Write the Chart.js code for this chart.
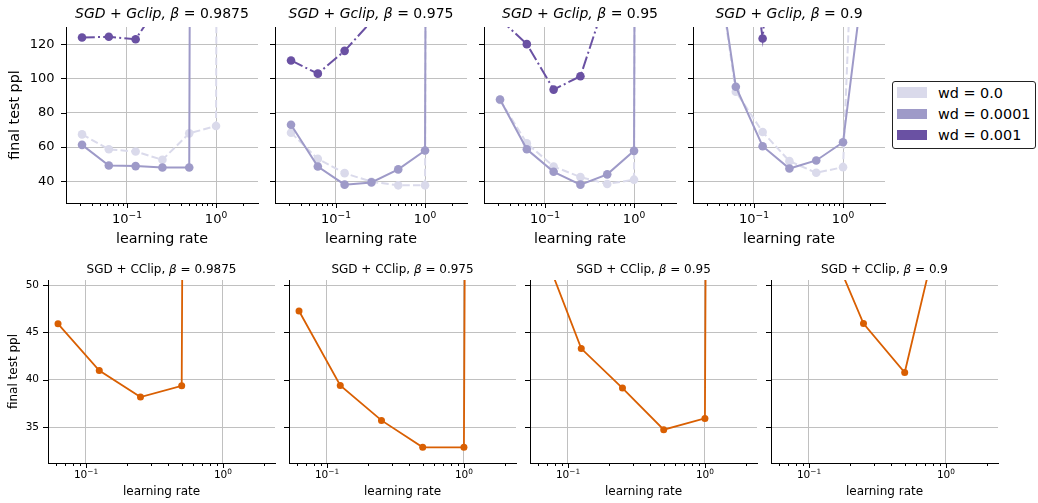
<!DOCTYPE html>
<html><head><meta charset="utf-8">
<script src="https://cdn.jsdelivr.net/npm/chart.js@4.4.0/dist/chart.umd.min.js"></script>
<style>
html,body{margin:0;padding:0;background:#fff;}
#wrap{position:relative;width:1038px;height:503px;overflow:hidden;background:#fff;}
#wrap canvas{position:absolute;}
#legend{position:absolute;left:892px;top:81px;width:144px;height:68px;border:1px solid #222;border-radius:3px;background:#fff;font:14.4px 'DejaVu Sans';color:#000;box-sizing:border-box;z-index:5;}
.row{position:absolute;left:4px;height:16px;display:flex;align-items:center;white-space:nowrap;}
.sw{width:30px;height:10.5px;display:inline-block;margin-right:11px;}
</style></head><body><div id="wrap">
<div id="legend">
 <div class="row" style="top:2.5px"><span class="sw" style="background:#dadaeb"></span>wd = 0.0</div>
 <div class="row" style="top:24px"><span class="sw" style="background:#9e9ac8"></span>wd = 0.0001</div>
 <div class="row" style="top:45px"><span class="sw" style="background:#6a51a3"></span>wd = 0.001</div>
</div>
</div>
<script>
// ---------- data ----------
const lrTop = [0.03125, 0.0625, 0.125, 0.25, 0.5, 1, 2];
const betaLabels = ['0.9875', '0.975', '0.95', '0.9'];
const wdLabels = ['wd = 0.0', 'wd = 0.0001', 'wd = 0.001'];
// SGD + Gclip, beta = 0.9875
const gc9875_wd0    = [67.4, 58.7, 57.4, 52.6, 68.0, 72.3, 5000];
const gc9875_wd1em4 = [61.3, 49.3, 48.9, 48.1, 48.1, 5000, null];
const gc9875_wd1em3 = [123.9, 124.3, 122.9, 146, null, null, null];
// beta = 0.975
const gc975_wd0    = [68.4, 53.1, 44.8, 39.8, 37.7, 37.7, 5000];
const gc975_wd1em4 = [73.0, 48.7, 38.1, 39.4, 47.0, 58.0, 5000];
const gc975_wd1em3 = [110.5, 102.8, 116.1, 133.3, null, null, null];
// beta = 0.95
const gc95_wd0    = [87.5, 62.2, 48.7, 42.5, 38.5, 41.0, 5000];
const gc95_wd1em4 = [87.7, 58.7, 45.6, 38.1, 44.1, 57.8, 5000];
const gc95_wd1em3 = [134.6, 120.0, 93.5, 101.3, 148.6, null, null];
// beta = 0.9
const gc9_wd0    = [200, 92.3, 68.8, 51.8, 45.0, 48.3, 440];
const gc9_wd1em4 = [200, 95.2, 60.5, 47.5, 52.2, 62.8, 188];
const gc9_wd1em3 = [null, 240, 123.3, 300, null, null, null];

const lrBot = [0.0625, 0.125, 0.25, 0.5, 1, 2];
const cc9875 = [45.9, 40.97, 38.16, 39.36, 1000, null];
const cc975  = [47.26, 39.39, 35.70, 32.86, 32.86, 1000];
const cc95   = [54.6, 43.29, 39.11, 34.72, 35.91, 1000];
const cc9    = [null, 56.2, 45.93, 40.76, 59.1, null];

const topYTicks = [40, 60, 80, 100, 120];
const botYTicks = [35, 40, 45, 50];
const xMajorTicks = [0.1, 1];
const xMajorExp = ['\u22121', '0'];
const xMinorTop = [0.03,0.04,0.05,0.06,0.07,0.08,0.09,0.2,0.3,0.4,0.5,0.6,0.7,0.8,0.9,2];
const xMinorBot = [0.06,0.07,0.08,0.09,0.2,0.3,0.4,0.5,0.6,0.7,0.8,0.9,2];

// ---------- styling ----------
const FONT = "'DejaVu Sans'";
const C_LIGHT = '#dadaeb', C_MED = '#9e9ac8', C_DARK = '#6a51a3', C_OR = '#d95f02';
const GRID = '#c0c0c0';

const tickMarks = {
  id: 'tickMarks',
  afterDraw(chart, args, o) {
    const ctx = chart.ctx, xs = chart.scales.x, ys = chart.scales.y, ca = chart.chartArea;
    ctx.save(); ctx.strokeStyle = '#000'; ctx.lineWidth = 1; ctx.beginPath();
    xs.ticks.forEach(t => {
      const px = Math.round(xs.getPixelForValue(t.value)) + 0.5;
      ctx.moveTo(px, ca.bottom); ctx.lineTo(px, ca.bottom + (t.major ? o.major : o.minor));
    });
    ys.ticks.forEach(t => {
      const py = Math.round(ys.getPixelForValue(t.value)) + 0.5;
      ctx.moveTo(ca.left - o.major, py); ctx.lineTo(ca.left, py);
    });
    ctx.stroke();
    // x tick labels as 10^k (base + superscript exponent)
    ctx.fillStyle = '#000'; ctx.textBaseline = 'alphabetic'; ctx.textAlign = 'left';
    o.labels.forEach((lab, i) => {
      const px = xs.getPixelForValue(o.values[i]);
      ctx.font = o.size + 'px ' + FONT; const wb = ctx.measureText('10').width;
      ctx.font = (o.size * 0.7) + 'px ' + FONT; const we = ctx.measureText(lab).width;
      const x0 = px - (wb + we) / 2, yb = ca.bottom + o.base;
      ctx.font = o.size + 'px ' + FONT; ctx.fillText('10', x0, yb);
      ctx.font = (o.size * 0.7) + 'px ' + FONT; ctx.fillText(lab, x0 + wb, yb - o.raise);
    });
    ctx.restore();
  }
};
const panelTitle = {
  id: 'panelTitle',
  afterDraw(chart, args, o) {
    const ctx = chart.ctx, ca = chart.chartArea;
    ctx.save(); ctx.fillStyle = '#000'; ctx.textBaseline = 'alphabetic'; ctx.textAlign = 'left';
    let total = 0;
    const segs = o.segs.map(s => { ctx.font = (s.it ? 'italic ' : '') + o.size + 'px ' + FONT; const w = ctx.measureText(s.t).width; total += w; return {t: s.t, it: s.it, w}; });
    let x = (ca.left + ca.right) / 2 - total / 2;
    segs.forEach(s => { ctx.font = (s.it ? 'italic ' : '') + o.size + 'px ' + FONT; ctx.fillText(s.t, x, o.y); x += s.w; });
    ctx.restore();
  }
};

function ds(xs, ys, color, dash, order, lw, r) {
  return {
    data: xs.map((x, i) => ({x, y: ys[i]})),
    borderColor: color, backgroundColor: color, pointBackgroundColor: color,
    pointBorderColor: color, pointBorderWidth: 0, pointRadius: r, pointHoverRadius: r,
    borderWidth: lw, borderDash: dash, tension: 0, order, spanGaps: false
  };
}

function makePanel(p) {
  const cv = document.createElement('canvas');
  const cw = p.padL + p.W + p.padR, ch = p.padT + p.H + p.padB;
  cv.width = cw; cv.height = ch;
  cv.style.left = (p.L - p.padL) + 'px'; cv.style.top = (p.T - p.padT) + 'px';
  cv.style.width = cw + 'px'; cv.style.height = ch + 'px';
  document.getElementById('wrap').insertBefore(cv, document.getElementById('legend'));
  const xTicks = p.xMajor.map(v => ({value: v, major: true})).concat(p.xMinor.map(v => ({value: v, major: false}))).sort((a, b) => a.value - b.value);
  new Chart(cv, {
    type: 'line',
    data: {datasets: p.datasets},
    plugins: [tickMarks, panelTitle],
    options: {
      responsive: false, animation: false, devicePixelRatio: 1,
      layout: {padding: {left: 0, top: p.padT, right: p.padR, bottom: 0}},
      plugins: {
        legend: {display: false}, tooltip: {enabled: false}, title: {display: false},
        tickMarks: {major: 5, minor: 3, values: p.xMajor, labels: xMajorExp, size: p.tickSize, base: p.xLabBase, raise: p.xLabRaise},
        panelTitle: {segs: p.title, size: p.titleSize, y: p.titleY}
      },
      scales: {
        x: {
          type: 'logarithmic', min: p.xMin, max: p.xMax,
          afterBuildTicks: s => { s.ticks = xTicks.map(t => ({value: t.value, major: t.major})); },
          afterFit: s => { s.height = p.padB; },
          grid: {drawTicks: false, lineWidth: 1, color: c => (c.tick && c.tick.major) ? GRID : 'rgba(0,0,0,0)'},
          border: {display: true, color: '#000', width: 1},
          ticks: {display: false, autoSkip: false, maxRotation: 0, minRotation: 0},
          title: {display: true, text: 'learning rate', color: '#000', font: {family: FONT, size: p.labelSize}, padding: {top: 0, bottom: p.xTitlePad}}
        },
        y: {
          type: 'linear', min: p.yMin, max: p.yMax,
          afterBuildTicks: s => { s.ticks = p.yTicks.map(v => ({value: v, major: true})); },
          afterFit: s => { s.width = p.padL; },
          grid: {drawTicks: false, lineWidth: 1, color: GRID},
          border: {display: true, color: '#000', width: 1},
          ticks: {display: p.showY, padding: p.yTickPad, color: '#000', font: {family: FONT, size: p.tickSize}},
          title: {display: p.showY, text: 'final test ppl', color: '#000', font: {family: FONT, size: p.labelSize}, padding: {top: p.yTitlePad, bottom: 0}}
        }
      }
    }
  });
}

// ---------- top row: SGD + Gclip ----------
const DASH = [7.4, 3.2], DASHDOT = [12.8, 3.2, 2, 3.2];
const topSets = [
  [gc9875_wd0, gc9875_wd1em4, gc9875_wd1em3],
  [gc975_wd0, gc975_wd1em4, gc975_wd1em3],
  [gc95_wd0, gc95_wd1em4, gc95_wd1em3],
  [gc9_wd0, gc9_wd1em4, gc9_wd1em3]
];
topSets.forEach((s, i) => {
  const d0 = ds(lrTop, s[0], C_LIGHT, DASH, 3, 2, 4.3); d0.label = wdLabels[0];
  const d1 = ds(lrTop, s[1], C_MED, [], 2, 2, 4.3); d1.label = wdLabels[1];
  const d2 = ds(lrTop, s[2], C_DARK, DASHDOT, 1, 2, 4.3); d2.label = wdLabels[2];
  makePanel({
    L: 66 + 209 * i, T: 27, W: 192, H: 176,
    padL: 66, padT: 27, padR: 14, padB: 50,
    xMin: 0.02065, xMax: 2.96, yMin: 27.4, yMax: 130,
    xMajor: xMajorTicks, xMinor: xMinorTop, yTicks: topYTicks,
    datasets: [d0, d1, d2],
    showY: i === 0, tickSize: 13, labelSize: 14.3,
    xLabBase: 20.3, xLabRaise: 5, yTickPad: 11.5, xTitlePad: 5.4, yTitlePad: 6.4,
    title: [{t: 'SGD + Gclip, \u03B2', it: true}, {t: ' = ' + betaLabels[i], it: false}],
    titleSize: 14, titleY: 17.5
  });
});

// ---------- bottom row: SGD + CClip ----------
const botSets = [cc9875, cc975, cc95, cc9];
botSets.forEach((s, i) => {
  makePanel({
    L: 48 + 241 * i, T: 280, W: 227, H: 183,
    padL: 48, padT: 27, padR: 14, padB: 40,
    xMin: 0.0528, xMax: 2.40, yMin: 31.2, yMax: 50.53,
    xMajor: xMajorTicks, xMinor: xMinorBot, yTicks: botYTicks,
    datasets: [ds(lrBot, s, C_OR, [], 1, 1.8, 3.5)],
    showY: i === 0, tickSize: 10.5, labelSize: 12,
    xLabBase: 15.3, xLabRaise: 4, yTickPad: 9, xTitlePad: 3.8, yTitlePad: 6.8,
    title: [{t: 'SGD + CClip, ', it: false}, {t: '\u03B2', it: true}, {t: ' = ' + betaLabels[i], it: false}],
    titleSize: 12, titleY: 20
  });
});
</script></body></html>
